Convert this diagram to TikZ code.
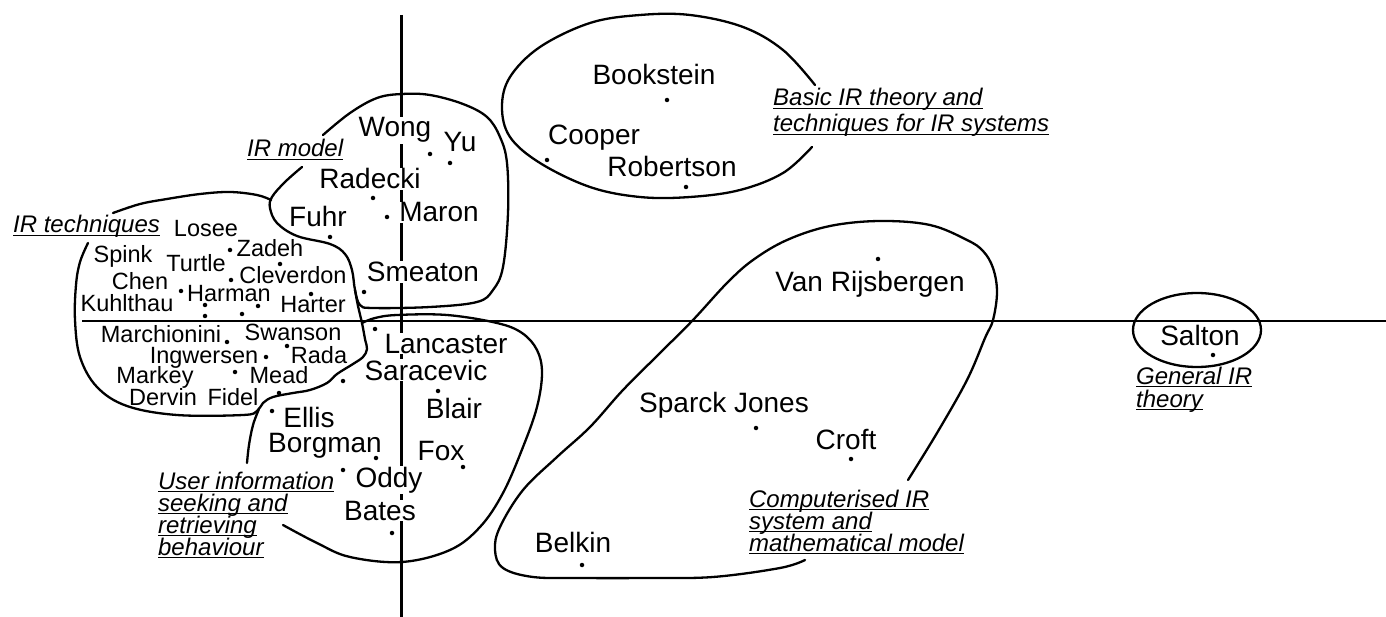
\documentclass[tikz,border=0pt]{standalone}
\usepackage{fontspec}
\setmainfont{Liberation Sans}
\lineskiplimit=-30pt

% Underlined line of a region label.
\newcommand{\themeline}[1]{\setbox0\hbox{#1}\rlap{\vrule height -2.2pt depth 3.4pt width \wd0}\box0}

\tikzset{
  bigauthor/.style={font=\fontsize{28}{30}\selectfont, fill=white, inner sep=1pt, anchor=base},
  smallauthor/.style={font=\fontsize{23.5}{25}\selectfont, inner sep=1pt, anchor=base},
  pt/.style={circle, fill=black, inner sep=0pt, minimum size=4.5pt},
  theme/.style={font=\fontsize{24}{22}\selectfont\itshape, align=left, anchor=base west, inner sep=0pt},
  border/.style={line width=2.3pt, line cap=round, line join=round},
}

\begin{document}
\begin{tikzpicture}[x=1pt, y=-1pt, line width=2.3pt]

    % Picture frame, in pixels of the original.
    \useasboundingbox (0,0) rectangle (1386,617);

    % End points of the two axes.
    \coordinate (W) at (82,321);
    \coordinate (E) at (1386,321);
    \coordinate (N) at (401.5,15);
    \coordinate (S) at (401.5,617);

    % The axes.
    \draw (W) -- (E);
    \draw (N) -- (S);

    % IR model region.
    \draw[border] plot[smooth, tension=0.6] coordinates {(302,167) (285,182) (272,197) (270,208) (277,223) (297,236)
      (330,244) (345,254) (352,270) (355,290) (360,305) (373,308) (430,307) (477,302) (493,290) (503,267)
      (508,213) (507,163) (500,137) (487,117) (463,104) (430,95) (402,94) (377,98) (350,113) (323,135)};

    % IR techniques region.
    \draw[border] plot[smooth, tension=0.6] coordinates {(113,213) (140,204) (167,199) (200,194) (230,192) (257,195) (271,200)};
    \draw[border] plot[smooth, tension=0.6] coordinates {(88,243) (80,262) (76,285) (75,320) (80,357) (97,387)
      (127,406) (177,415) (243,415) (257,411) (263,403) (273,397) (293,393) (310,390) (327,383) (337,374)
      (353,364) (363,357) (367,349) (365,339) (362,323) (358,306) (355,290)};

    % User information region.
    \draw[border] plot[smooth, tension=0.6] coordinates {(259,409) (253,425) (249,445) (247,463)};
    \draw[border] plot[smooth, tension=0.6] coordinates {(283,525) (317,543) (350,557) (402,562) (450,550) (480,527)
      (503,493) (523,447) (537,407) (542,373) (537,350) (522,333) (497,323) (447,315) (397,315) (375,318) (362,323)};

    % Basic IR theory region.
    \draw[border] plot[smooth, tension=0.6] coordinates {(812,147) (783,173) (740,190) (690,197) (640,197) (590,187)
      (540,163) (510,137) (502,107) (510,77) (540,47) (590,23) (640,15) (690,15) (743,27) (783,50) (815,85)};

    % Computerised IR region.
    \draw[border] plot[smooth, tension=0.6] coordinates {(805,560) (780,568) (713,577) (647,578) (580,578) (533,577)
      (503,568) (495,550) (500,527) (523,490) (557,457) (590,427) (623,390) (660,353) (693,320) (727,283)
      (753,260) (787,240) (830,226) (880,221) (930,225) (967,240) (983,251) (993,268) (997,292) (993,320)
      (985,338) (967,380) (937,433) (908,480)};

    % General IR theory region.
    \coordinate (C) at (1197,330);
    \draw (C) ellipse (64 and 37);

    % Authors, large type.
    \node[bigauthor] (wong) at (395,137) {Wong};
    \node[bigauthor] (yu) at (460,152) {Yu};
    \node[bigauthor] (radecki) at (370,189) {Radecki};
    \node[bigauthor] (fuhr) at (318,227) {Fuhr};
    \node[bigauthor] (maron) at (439,222) {Maron};
    \node[bigauthor] (smeaton) at (423,282) {Smeaton};
    \node[bigauthor] (lancaster) at (446,353) {Lancaster};
    \node[bigauthor] (saracevic) at (426,380) {Saracevic};
    \node[bigauthor] (blair) at (454,418) {Blair};
    \node[bigauthor] (ellis) at (309,427) {Ellis};
    \node[bigauthor] (borgman) at (325,452) {Borgman};
    \node[bigauthor] (fox) at (441,460) {Fox};
    \node[bigauthor] (oddy) at (389,487) {Oddy};
    \node[bigauthor] (bates) at (380,520) {Bates};
    \node[bigauthor] (bookstein) at (654,85) {Bookstein};
    \node[bigauthor] (cooper) at (594,145) {Cooper};
    \node[bigauthor] (robertson) at (672,177) {Robertson};
    \node[bigauthor] (vanrijsbergen) at (870,292) {Van Rijsbergen};
    \node[bigauthor] (sparckjones) at (724,412) {Sparck Jones};
    \node[bigauthor] (croft) at (846,449) {Croft};
    \node[bigauthor] (belkin) at (573,552) {Belkin};
    \node[bigauthor] (salton) at (1200,345) {Salton};

    % Authors, small type.
    \node[smallauthor] (losee) at (206,237) {Losee};
    \node[smallauthor] (spink) at (123,263) {Spink};
    \node[smallauthor] (zadeh) at (270,257) {Zadeh};
    \node[smallauthor] (turtle) at (196,272) {Turtle};
    \node[smallauthor] (chen) at (140,290) {Chen};
    \node[smallauthor] (cleverdon) at (293,284) {Cleverdon};
    \node[smallauthor] (kuhlthau) at (127,312) {Kuhlthau};
    \node[smallauthor] (harman) at (229,302) {Harman};
    \node[smallauthor] (harter) at (313,313) {Harter};
    \node[smallauthor] (marchionini) at (161,343) {Marchionini};
    \node[smallauthor] (swanson) at (293,341) {Swanson};
    \node[smallauthor] (ingwersen) at (204,363) {Ingwersen};
    \node[smallauthor] (rada) at (319,363) {Rada};
    \node[smallauthor] (markey) at (155,383) {Markey};
    \node[smallauthor] (mead) at (279,383) {Mead};
    \node[smallauthor] (dervin) at (163,405) {Dervin};
    \node[smallauthor] (fidel) at (233,405) {Fidel};

    % Points.
    \node[pt] (bookstein-pt) at (667,100) {};
    \node[pt] (cooper-pt) at (547,160) {};
    \node[pt] (robertson-pt) at (686,187) {};
    \node[pt] (wong-pt) at (430,154) {};
    \node[pt] (yu-pt) at (450,163) {};
    \node[pt] (radecki-pt) at (373,198) {};
    \node[pt] (maron-pt) at (387,217) {};
    \node[pt] (fuhr-pt) at (330,237) {};
    \node[pt] (smeaton-pt) at (364,292) {};
    \node[pt] (lancaster-pt) at (375,329) {};
    \node[pt] (saracevic-pt) at (343,381) {};
    \node[pt] (blair-pt) at (438,391) {};
    \node[pt] (fox-pt) at (463,467) {};
    \node[pt] (borgman-pt) at (376,458) {};
    \node[pt] (oddy-pt) at (343,470) {};
    \node[pt] (bates-pt) at (392,533) {};
    \node[pt] (ellis-pt) at (272,411) {};
    \node[pt] (vanrijsbergen-pt) at (878,259) {};
    \node[pt] (sparckjones-pt) at (756,428) {};
    \node[pt] (croft-pt) at (851,459) {};
    \node[pt] (belkin-pt) at (582,565) {};
    \node[pt] (salton-pt) at (1213,355) {};
    \node[pt] (losee-pt) at (230,250) {};
    \node[pt] (zadeh-pt) at (280,264) {};
    \node[pt] (turtle-pt) at (231,280) {};
    \node[pt] (chen-pt) at (181,291) {};
    \node[pt] (cleverdon-pt) at (311,294) {};
    \node[pt] (kuhlthau-pt) at (205,305) {};
    \node[pt] (harman-pt) at (258,306) {};
    \node[pt] (spink-pt) at (205,316) {};
    \node[pt] (harter-pt) at (242,314) {};
    \node[pt] (marchionini-pt) at (227,342) {};
    \node[pt] (swanson-pt) at (287,346) {};
    \node[pt] (ingwersen-pt) at (266,357) {};
    \node[pt] (markey-pt) at (235,372) {};
    \node[pt] (mead-pt) at (279,393) {};

    % Region labels (placed at the baseline of their last line).
    \node[theme] (techniques) at (12,233) {\themeline{IR techniques}};
    \node[theme] (model) at (246,157) {\themeline{IR model}};
    \node[theme, font=\fontsize{24}{26}\selectfont\itshape] (basic) at (772,132)
      {\themeline{Basic IR theory and}\\\themeline{techniques for IR systems}};
    \node[theme] (user) at (157,555)
      {\themeline{User information}\\\themeline{seeking and}\\\themeline{retrieving}\\\themeline{behaviour}};
    \node[theme] (computerised) at (748,551)
      {\themeline{Computerised IR}\\\themeline{system and}\\\themeline{mathematical model}};
    \node[theme, font=\fontsize{24}{23}\selectfont\itshape] (general) at (1135,407)
      {\themeline{General IR}\\\themeline{theory}};
\end{tikzpicture}
\end{document}
